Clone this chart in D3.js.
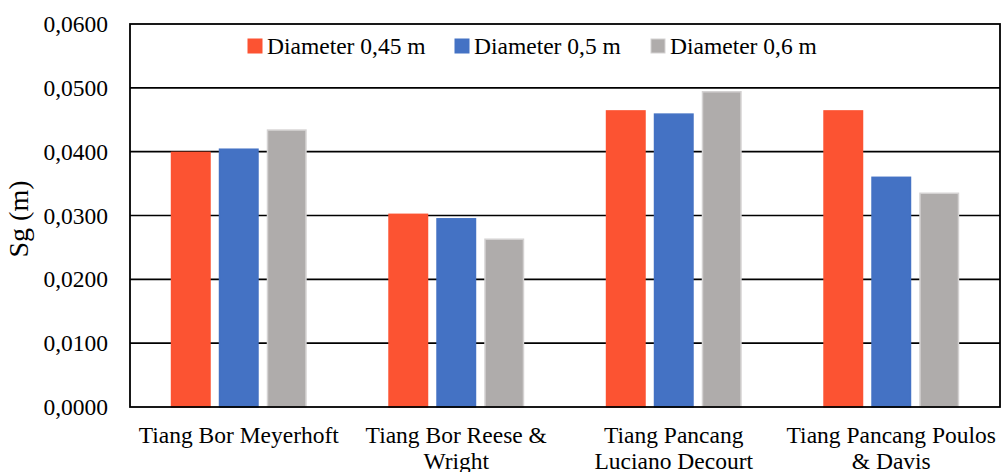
<!DOCTYPE html>
<html>
<head>
<meta charset="utf-8">
<script src="https://cdn.jsdelivr.net/npm/d3@7"></script>
<style>
  html, body { margin: 0; padding: 0; background: #fff; }
  svg { display: block; }
  text { font-family: "Liberation Serif", "Times New Roman", serif; fill: #000; }
</style>
</head>
<body>
<svg id="chart" width="1003" height="472"></svg>
<script>
const categories = [
  ["Tiang Bor Meyerhoft"],
  ["Tiang Bor Reese &", "Wright"],
  ["Tiang Pancang", "Luciano Decourt"],
  ["Tiang Pancang Poulos", "& Davis"]
];
const seriesNames = ["Diameter 0,45 m", "Diameter 0,5 m", "Diameter 0,6 m"];
const d045 = [0.0400, 0.0303, 0.0465, 0.0465];
const d05  = [0.0405, 0.0296, 0.0460, 0.0361];
const d06  = [0.0435, 0.0264, 0.0495, 0.0336];
const yTicks = [0, 0.01, 0.02, 0.03, 0.04, 0.05, 0.06];
const yTickLabels = ["0,0000", "0,0100", "0,0200", "0,0300", "0,0400", "0,0500", "0,0600"];
const colors = ["#FC5332", "#4472C4", "#AFACAB"];
const strokes = ["#FC5332", "#4472C4", "#D4D2D2"];

const series = [d045, d05, d06];
const svg = d3.select("#chart");
const m = { left: 130, right: 1000, top: 24, bottom: 407 };

const x0 = d3.scaleBand().domain(d3.range(categories.length)).range([m.left, m.right]).padding(0);
const x1 = d3.scaleBand().domain(d3.range(series.length)).range([0, x0.bandwidth()])
  .paddingInner(0.167).paddingOuter(0.85);
const y = d3.scaleLinear().domain([0, 0.06]).range([m.bottom, m.top]);

// gridlines
svg.append("g").selectAll("line").data(yTicks.slice(1, -1)).join("line")
  .attr("x1", m.left).attr("x2", m.right)
  .attr("y1", d => y(d)).attr("y2", d => y(d))
  .attr("stroke", "#000").attr("stroke-width", 1.6);

// bars
const groups = svg.append("g").selectAll("g").data(categories).join("g")
  .attr("transform", (d, i) => `translate(${x0(i)},0)`);
groups.selectAll("rect").data((d, i) => series.map((s, k) => ({ k, v: s[i] }))).join("rect")
  .attr("x", d => x1(d.k) + 0.75)
  .attr("width", x1.bandwidth() - 1.5)
  .attr("y", d => y(d.v) + 0.75)
  .attr("height", d => y(0) - y(d.v) - 0.75)
  .attr("fill", d => colors[d.k])
  .attr("stroke", d => strokes[d.k])
  .attr("stroke-width", 1.5);

// frame
svg.append("rect").attr("x", m.left).attr("y", m.top)
  .attr("width", m.right - m.left).attr("height", m.bottom - m.top)
  .attr("fill", "none").attr("stroke", "#000").attr("stroke-width", 1.8);

// y axis
const yAxis = d3.axisLeft(y).tickValues(yTicks).tickSize(0).tickPadding(22)
  .tickFormat((d, i) => yTickLabels[i]);
const gy = svg.append("g").attr("transform", `translate(${m.left},0)`).call(yAxis);
gy.select(".domain").remove();
gy.selectAll("text").style("font-family", "'Liberation Serif', serif").style("font-size", "23.5px").attr("fill", "#000");

// x labels
const xl = svg.append("g").selectAll("text").data(categories).join("text")
  .attr("x", (d, i) => x0(i) + x0.bandwidth() / 2)
  .attr("y", 443)
  .attr("text-anchor", "middle")
  .style("font-size", "23.5px");
xl.selectAll("tspan").data(d => d).join("tspan")
  .attr("x", function() { return d3.select(this.parentNode).attr("x"); })
  .attr("dy", (d, i) => i === 0 ? 0 : 25.5)
  .text(d => d);

// y title
svg.append("text")
  .attr("transform", "translate(28,219) rotate(-90)")
  .attr("text-anchor", "middle")
  .style("font-size", "28px")
  .text("Sg (m)");

// legend
const legendX = [248, 455, 651];
const lg = svg.append("g").selectAll("g").data(seriesNames).join("g")
  .attr("transform", (d, i) => `translate(${legendX[i]},0)`);
lg.append("rect").attr("x", 0).attr("y", 39).attr("width", 14).attr("height", 14)
  .attr("fill", (d, i) => colors[i]).attr("stroke", (d, i) => strokes[i]).attr("stroke-width", 1);
lg.append("text").attr("x", 19).attr("y", 53.5).style("font-size", "23.5px").text(d => d);
</script>
</body>
</html>
